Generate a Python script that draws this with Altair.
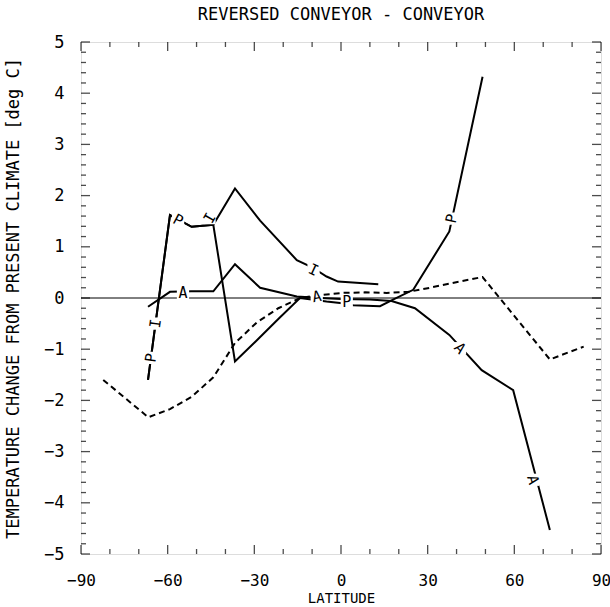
import altair as alt
import pandas as pd

TITLE = "REVERSED CONVEYOR - CONVEYOR"
X_TITLE = "LATITUDE"
Y_TITLE = "TEMPERATURE CHANGE FROM PRESENT CLIMATE [deg C]"
FONT = "DejaVu Sans Mono"

# tick values
x_major = [-90, -60, -30, 0, 30, 60, 90]
x_minor = [-80, -70, -50, -40, -20, -10, 10, 20, 40, 50, 70, 80]
y_major = [-5, -4, -3, -2, -1, 0, 1, 2, 3, 4, 5]
y_minor = [v / 10 for v in range(-50, 51, 2) if v % 10 != 0]

# curve P
p_lat = [-66.8, -59.2, -51.7, -44.2, -36.7, -29.2, -21.7, -14.2, -5.0, 2.0, 4.2, 13.5, 18.0, 25.0, 37.5, 49.0]
p_val = [-1.60, 1.62, 1.39, 1.43, -1.24, -0.83, -0.41, 0.00, -0.07, -0.11, -0.14, -0.16, -0.03, 0.16, 1.30, 4.32]
# curve I
i_lat = [-66.8, -59.2, -51.7, -44.2, -36.7, -28.0, -15.3, -10.0, -5.0, -1.0, 12.9]
i_val = [-1.60, 1.62, 1.39, 1.43, 2.14, 1.51, 0.74, 0.60, 0.42, 0.32, 0.27]
# curve A
a_lat = [-66.8, -59.2, -51.7, -44.2, -36.7, -28.0, -15.3, -7.0, 0.0, 10.0, 17.5, 25.6, 37.5, 48.7, 59.6, 72.3]
a_val = [-0.17, 0.12, 0.13, 0.13, 0.66, 0.20, 0.03, 0.00, -0.02, -0.03, -0.06, -0.20, -0.72, -1.41, -1.80, -4.53]
# dashed curve
d_lat = [-82.3, -66.7, -59.2, -51.7, -44.2, -36.7, -29.2, -21.7, -14.2, -6.7, 0.8, 8.3, 15.8, 23.3, 30.8, 38.3, 49.0, 72.3, 84.0]
d_val = [-1.60, -2.33, -2.17, -1.93, -1.55, -0.88, -0.48, -0.20, 0.00, 0.06, 0.10, 0.11, 0.10, 0.12, 0.20, 0.29, 0.41, -1.20, -0.95]

# inline curve labels
lab_text = ["P", "I", "P", "A", "I", "I", "A", "P", "P", "A", "A"]
lab_lat = [-65.8, -64.2, -56.4, -54.7, -45.5, -9.5, -8.4, 2.0, 38.3, 41.2, 66.5]
lab_val = [-1.17, -0.50, 1.52, 0.10, 1.56, 0.55, 0.03, -0.08, 1.55, -0.98, -3.55]
lab_angle = [278, 278, 28, 0, 300, 25, 350, 0, 282, 47, 75]

rows = []
for name, lats, vals in [("P", p_lat, p_val), ("I", i_lat, i_val), ("A", a_lat, a_val)]:
    for k, (la, va) in enumerate(zip(lats, vals)):
        rows.append({"series": name, "lat": la, "val": va, "ord": k})
solid_df = pd.DataFrame(rows)
dash_df = pd.DataFrame({"lat": d_lat, "val": d_val, "ord": list(range(len(d_lat)))})
lab_df = pd.DataFrame({"label": lab_text, "lat": lab_lat, "val": lab_val, "ang": lab_angle})

XS = alt.Scale(domain=[-90, 90], nice=False, zero=False)
YS = alt.Scale(domain=[-5, 5], nice=False, zero=False)

x_axis = alt.Axis(values=x_major, ticks=False, tickSize=0, domain=False, grid=False,
                  labelFont=FONT, labelFontSize=16, labelPadding=18, labelColor="black",
                  labelFlush=False, labelOverlap=False, labelBound=False,
                  title=X_TITLE, titleFont=FONT, titleFontSize=14, titleFontWeight="normal",
                  titleColor="black", titleX=260, titleY=44, titleBaseline="middle",
                  titleAlign="center")
y_axis = alt.Axis(values=y_major, ticks=False, tickSize=0, domain=False, grid=False,
                  labelFont=FONT, labelFontSize=17, labelPadding=17, labelColor="black",
                  labelFlush=False, labelOverlap=False, labelBound=False,
                  title=Y_TITLE, titleFont=FONT, titleFontSize=17, titleFontWeight="normal",
                  titleColor="black", titleX=-68, titleY=256, titleAngle=270,
                  titleBaseline="middle", titleAlign="center")


def X(field):
    return alt.X(field, scale=XS, axis=x_axis)


def Y(field):
    return alt.Y(field, scale=YS, axis=y_axis)


solid = alt.Chart(solid_df).mark_line(color="black", strokeWidth=2).encode(
    x=X("lat:Q"), y=Y("val:Q"), detail="series:N", order="ord:Q",
)

dashed = alt.Chart(dash_df).mark_line(color="black", strokeWidth=2, strokeDash=[6, 4]).encode(
    x=X("lat:Q"), y=Y("val:Q"), order="ord:Q",
)

zero = alt.Chart(pd.DataFrame({"z": [0]})).mark_rule(color="black", strokeWidth=1).encode(
    y=Y("z:Q")
)

label_bg = alt.Chart(lab_df).mark_square(size=150, color="white", opacity=1).encode(
    x=X("lat:Q"), y=Y("val:Q"),
)
label_txt = alt.Chart(lab_df).mark_text(font=FONT, fontSize=15, color="black",
                                        align="center", baseline="middle").encode(
    x=X("lat:Q"), y=Y("val:Q"),
    text="label:N",
    angle=alt.Angle("ang:Q", scale=None),
)


def ticks_layer(values, side, length):
    df = pd.DataFrame({"v": values})
    if side in ("left", "right"):
        edge = -90 if side == "left" else 90
        off = length / 2 if side == "left" else -length / 2
        return alt.Chart(df).mark_tick(orient="horizontal", color="black", thickness=1.3,
                                       size=length, xOffset=off).encode(
            x=alt.X(datum=edge, scale=XS, axis=x_axis),
            y=Y("v:Q"),
        )
    edge = -5 if side == "bottom" else 5
    off = -length / 2 if side == "bottom" else length / 2
    return alt.Chart(df).mark_tick(orient="vertical", color="black", thickness=1.3,
                                   size=length, yOffset=off).encode(
        x=X("v:Q"),
        y=alt.Y(datum=edge, scale=YS, axis=y_axis),
    )


tick_layers = []
for side in ("left", "right"):
    tick_layers.append(ticks_layer(y_major, side, 9))
    tick_layers.append(ticks_layer(y_minor, side, 5))
for side in ("bottom", "top"):
    tick_layers.append(ticks_layer(x_major, side, 9))
    tick_layers.append(ticks_layer(x_minor, side, 5))

chart = alt.layer(solid, zero, dashed, *tick_layers, label_bg, label_txt).properties(
    width=520,
    height=512,
    title=alt.TitleParams(TITLE, font=FONT, fontSize=17, fontWeight="normal",
                          color="black", anchor="middle", offset=14, baseline="bottom",
                          dy=22),
    autosize=alt.AutoSizeParams(type="none"),
    padding={"left": 81, "top": 42, "right": 9, "bottom": 53},
).configure_view(stroke="black", strokeWidth=1.6).configure(background="white")

chart.save("out.html", embed_options={"renderer": "svg", "actions": False})
